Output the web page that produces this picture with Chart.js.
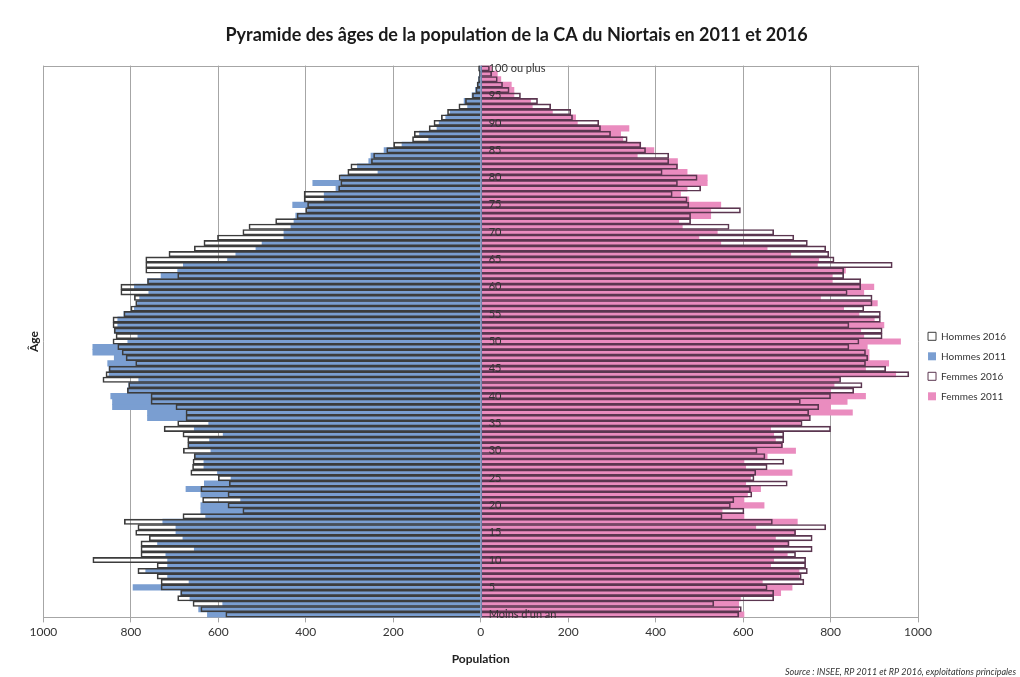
<html>

<head>
    <script src="https://cdn.jsdelivr.net/npm/chart.js@4.4.0/dist/chart.umd.min.js"></script>
    <style>
        body { margin: 0; background: #fff; }
    </style>
</head>

<body>
<div style="width:1020px;height:677px">
    <canvas id="pyramide"></canvas>
</div>
<script>
    // ages 0 .. 100 (0 = "Moins d'un an", 100 = "100 ou plus")
    var ages = [];
    for (var a = 0; a <= 100; a++) {
        ages.push(a === 0 ? "Moins d'un an" : (a === 100 ? "100 ou plus" : String(a)));
    }
    // only every 5th age is written next to the axis
    var ageTicks = ages.map(function (l, i) { return i % 5 === 0 ? l : ''; });

    var hommes2016 = [583, 640, 658, 693, 686, 731, 731, 740, 784, 740,
        887, 777, 777, 777, 758, 789, 784, 815, 681, 544,
        578, 636, 578, 640, 575, 600, 663, 659, 658, 655,
        680, 670, 670, 681, 724, 693, 674, 674, 697, 754,
        754, 808, 805, 864, 857, 850, 789, 811, 820, 830,
        841, 834, 838, 841, 841, 816, 800, 789, 792, 823,
        823, 762, 693, 766, 766, 766, 713, 655, 633, 602,
        544, 530, 469, 420, 400, 396, 404, 404, 325, 320,
        324, 304, 297, 250, 245, 215, 199, 156, 152, 118,
        107, 90, 76, 50, 35, 19, 11, 8, 5, 3, 5];

    var hommes2011 = [625, 645, 590, 665, 686, 795, 667, 716, 766, 716,
        716, 720, 655, 739, 681, 697, 697, 727, 629, 640,
        640, 549, 640, 674, 632, 571, 602, 633, 633, 655,
        617, 667, 620, 589, 655, 622, 762, 762, 842, 842,
        846, 808, 805, 782, 850, 850, 853, 838, 887, 887,
        807, 784, 838, 830, 830, 816, 792, 785, 780, 759,
        792, 762, 731, 693, 680, 579, 560, 514, 500, 450,
        450, 434, 427, 423, 396, 430, 358, 358, 331, 384,
        320, 235, 282, 256, 251, 221, 180, 119, 140, 100,
        95, 80, 70, 30, 38, 20, 12, 8, 5, 3, 3];

    var femmes2016 = [590, 596, 533, 670, 670, 655, 739, 733, 747, 743,
        743, 720, 758, 705, 758, 720, 789, 667, 552, 602,
        571, 579, 620, 617, 701, 625, 629, 655, 693, 650,
        632, 690, 693, 693, 800, 735, 754, 750, 773, 731,
        800, 853, 872, 823, 979, 926, 880, 885, 880, 842,
        865, 918, 918, 842, 914, 914, 876, 895, 895, 838,
        869, 869, 830, 830, 941, 808, 796, 789, 747, 716,
        670, 568, 480, 480, 594, 476, 472, 438, 503, 450,
        495, 415, 450, 430, 430, 377, 366, 335, 297, 274,
        270, 210, 206, 160, 130, 91, 65, 50, 38, 25, 20];

    var femmes2011 = [602, 590, 590, 594, 686, 712, 644, 728, 728, 663,
        670, 701, 670, 705, 674, 720, 629, 724, 602, 552,
        648, 602, 610, 640, 606, 617, 712, 606, 602, 655,
        720, 690, 674, 670, 663, 731, 750, 850, 800, 838,
        880, 800, 808, 819, 949, 880, 933, 888, 888, 884,
        960, 876, 869, 922, 900, 865, 830, 907, 777, 876,
        899, 804, 804, 834, 770, 773, 709, 655, 549, 499,
        541, 461, 453, 526, 526, 549, 476, 457, 472, 518,
        518, 472, 450, 450, 358, 396, 366, 325, 320, 339,
        221, 217, 164, 118, 114, 76, 76, 70, 46, 38, 25];

    function neg(arr) { return arr.map(function (v) { return -v; }); }

    Chart.defaults.font.family = 'Lato, "DejaVu Sans", sans-serif';
    Chart.defaults.color = '#333';

    // age labels are written just right of the zero line, like in Excel
    var ageLabels = {
        id: 'ageLabels',
        beforeDatasetsDraw: function (chart) {
            var c = chart.ctx, a = chart.chartArea;
            c.save();
            c.strokeStyle = '#a6a6a6';
            c.lineWidth = 1;
            c.beginPath();
            c.moveTo(a.left, Math.round(a.top) + 0.5);
            c.lineTo(a.right, Math.round(a.top) + 0.5);
            c.stroke();
            c.restore();
        },
        afterDatasetsDraw: function (chart) {
            var c = chart.ctx;
            var x0 = chart.scales.x.getPixelForValue(0);
            c.save();
            c.strokeStyle = '#6f86b0';
            c.lineWidth = 1;
            c.beginPath();
            c.moveTo(Math.round(x0) + 0.5, chart.chartArea.top);
            c.lineTo(Math.round(x0) + 0.5, chart.chartArea.bottom);
            c.stroke();
            c.font = '11px Lato';
            c.fillStyle = '#333';
            c.textAlign = 'left';
            c.textBaseline = 'middle';
            ageTicks.forEach(function (t, i) {
                if (t) c.fillText(t, x0 + 8, chart.scales.y.getPixelForValue(i));
            });
            c.restore();
        }
    };

    var ctx = document.getElementById('pyramide').getContext('2d');
    var chart = new Chart(ctx, {
        type: 'bar',
        data: {
            labels: ages,
            datasets: [
                { label: 'Hommes 2016', data: neg(hommes2016), backgroundColor: 'rgba(255,255,255,0)', borderColor: '#3c3c3c', borderWidth: 1 },
                { label: 'Hommes 2011', data: neg(hommes2011), backgroundColor: '#7a9ed1', borderWidth: 0 },
                { label: 'Femmes 2016', data: femmes2016, backgroundColor: 'rgba(255,255,255,0)', borderColor: '#5b3650', borderWidth: 1 },
                { label: 'Femmes 2011', data: femmes2011, backgroundColor: '#ea8cbf', borderWidth: 0 }
            ]
        },
        options: {
            indexAxis: 'y',
            responsive: true,
            maintainAspectRatio: false,
            animation: false,
            datasets: { bar: { grouped: false, barPercentage: 1, categoryPercentage: 1 } },
            layout: { padding: { left: 17, right: 4, top: 0, bottom: 0 } },
            scales: {
                x: {
                    min: -1000, max: 1000,
                    ticks: { stepSize: 200, callback: function (v) { return Math.abs(v); }, font: { size: 12 }, padding: 3 },
                    grid: { color: '#a6a6a6', tickLength: 5 },
                    border: { color: '#a6a6a6' },
                    title: { display: true, text: 'Population', font: { size: 12, weight: 'bold' }, color: '#222', padding: { top: 9, bottom: 0 } }
                },
                y: {
                    reverse: true,
                    ticks: { display: false },
                    grid: { display: false, drawTicks: false },
                    border: { display: false },
                    title: { display: true, text: 'Âge', font: { size: 12, weight: 'bold' }, color: '#222', padding: { top: 10, bottom: 2 } }
                }
            },
            plugins: {
                title: {
                    display: true,
                    text: 'Pyramide des âges de la population de la CA du Niortais en 2011 et 2016',
                    font: { size: 18, weight: 'bold' }, color: '#1a1a1a',
                    padding: { top: 24, bottom: 20 }
                },
                subtitle: {
                    display: true, position: 'bottom', align: 'end',
                    text: 'Source : INSEE, RP 2011 et RP 2016, exploitations principales',
                    font: { size: 9, style: 'italic' }, color: '#333',
                    padding: { top: 0, bottom: 0 }
                },
                legend: {
                    position: 'right',
                    title: { display: true, text: ' ', font: { size: 8 }, padding: { top: 46, bottom: 0 } },
                    labels: { boxWidth: 8, boxHeight: 8, padding: 10, font: { size: 10 }, color: '#333' }
                },
                tooltip: { enabled: false }
            }
        },
        plugins: [ageLabels]
    });
</script>
</body>

</html>
